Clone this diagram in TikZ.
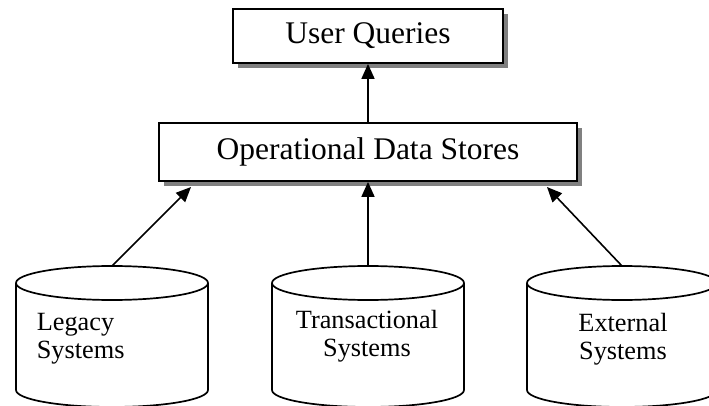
\documentclass[tikz,border=0pt]{standalone}
\usepackage{fontspec}
\setmainfont{Liberation Serif}
\usetikzlibrary{arrows.meta,shadows}
\definecolor{shadowgray}{RGB}{128,128,128}
\begin{document}
\begin{tikzpicture}[x=1pt,y=-1pt,
  line width=1.7pt,
  boxnode/.style={draw=black, fill=white, line width=1.8pt, inner sep=0pt,
    font=\fontsize{31.5}{34}\selectfont,
    drop shadow={shadow xshift=5pt, shadow yshift=-5pt, fill=shadowgray, opacity=1}},
  cyltext/.style={inner sep=0pt, font=\fontsize{26.3}{28}\selectfont},
  arr/.style={-{Triangle[length=15pt,width=13pt]}, line width=1.6pt}
]
\useasboundingbox (0,0) rectangle (709,406);
\clip (0,0) rectangle (709,406);
\fill[white] (0,0) rectangle (709,406);

% boxes
\node[boxnode, minimum width=270pt, minimum height=54pt] (uq) at (368,36) {User Queries};
\node[boxnode, minimum width=418pt, minimum height=58pt] (ods) at (368,152) {Operational Data Stores};

% cylinders
\draw (16,283) -- (16,390) arc[start angle=180, end angle=360, x radius=96pt, y radius=17pt] -- (208,283);
\draw (112,283) ellipse [x radius=96pt, y radius=17pt];
\coordinate (legtop) at (112,266);
\node[cyltext, align=left, anchor=west] (leg) at (36,339) {Legacy\\Systems};

\draw (272,283) -- (272,390) arc[start angle=180, end angle=360, x radius=96pt, y radius=17pt] -- (464,283);
\draw (368,283) ellipse [x radius=96pt, y radius=17pt];
\coordinate (trtop) at (368,266);
\node[cyltext, align=center] (tr) at (367,336) {Transactional\\Systems};

\draw (527,283) -- (527,390) arc[start angle=180, end angle=360, x radius=95pt, y radius=17pt] -- (717,283);
\draw (622,283) ellipse [x radius=95pt, y radius=17pt];
\coordinate (exttop) at (622,266);
\node[cyltext, align=center] (ext) at (623,339) {External\\Systems};

% arrow ends
\coordinate (ltip) at (191,187);
\coordinate (rtip) at (547,187);

% connectors
\draw[arr] (ods.north) -- (uq.south);
\draw[arr] (legtop) -- (ltip);
\draw[arr] (trtop) -- (ods.south -| trtop);
\draw[arr] (exttop) -- (rtip);
\end{tikzpicture}
\end{document}
